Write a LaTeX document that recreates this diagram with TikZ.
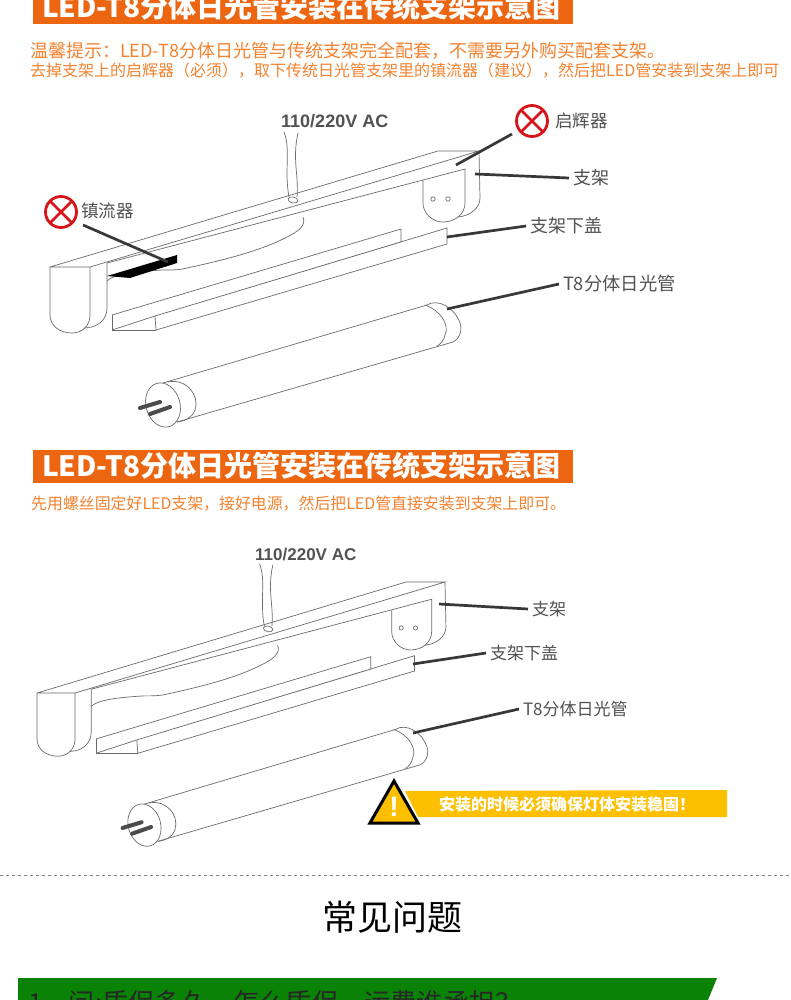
\documentclass[tikz,border=0pt]{standalone}
\usepackage{fontspec}
\setmainfont{Noto Sans CJK SC}
\newfontfamily\acfont{Liberation Sans}
\definecolor{barorange}{HTML}{EC6612}
\definecolor{noteorange}{HTML}{F4822F}
\definecolor{warnyellow}{HTML}{FCC000}
\definecolor{faqgreen}{HTML}{0A8205}
\definecolor{bandred}{HTML}{D7141A}
\newcommand{\sizept}[1]{\fontsize{#1}{#1}\selectfont}
\newcommand{\fixture}{%
\draw [fixline] (50,267) -- (438,151) -- (479,151) -- (90,267) -- (50,267) -- (50,315)
  .. controls (50,326) and (60,333) .. (72,333) .. controls (82,333) and (90,326) .. (90,315) -- (90,267);
\draw [fixline] (107,263) -- (107,308) .. controls (107,320) and (97,328) .. (84,328);
\draw [fixline] (479,151) -- (480,198) .. controls (480,208) and (470,216) .. (458,217);
\draw [fixline] (107,263) -- (465,169) -- (465,203) .. controls (465,214) and (455,222) .. (443,222)
  .. controls (432,222) and (423,213) .. (423,203) -- (423,181);
\draw [fixline] (433,199) circle (2.2);
\draw [fixline] (448,199) circle (2.2);
% reflector
\draw [fixline] (107,281) .. controls (112,276) and (125,272) .. (163,270)
  .. controls (172,270) and (180,270) .. (187,268) .. controls (225,260) and (262,250) .. (285,238)
  .. controls (300,231) and (306,225) .. (303,217);
% cover
\draw [fixline] (112,315) -- (401,229) -- (401,242) -- (155,316) -- (447,228) -- (447,244) -- (156,330) -- (155,316);
\draw [fixline] (112,315) -- (112,330) -- (156,330);
\draw [fixline] (112,330) -- (155,316);
% tube
\draw [fixline, rotate around={16:(163,405)}] (163,405) ellipse (17 and 22.5);
\draw [fixline] (163,383) -- (427,305) .. controls (438,298) and (455,308) .. (460,323)
  .. controls (463,332) and (458,340) .. (453,342) -- (177,422);
\draw [fixline] (168,382) .. controls (186,378) and (200,395) .. (195,410) .. controls (192,418) and (185,421) .. (177,422);
\draw [fixline] (425,305) .. controls (440,310) and (450,325) .. (445,335) .. controls (444,340) and (441,344) .. (437,346);
\draw [pinline] (140,408) -- (160,402);
\draw [pinline] (150,414) -- (170,407);
% wire
\draw [fixline] (284,132) .. controls (291,150) and (284,170) .. (289,197);
\draw [fixline] (298,133) .. controls (292,160) and (299,175) .. (297,197);
\draw [fixline, rotate around={-12:(293,200)}] (293,200) ellipse (5 and 3);
}
\newcommand{\banmark}[2]{%
\draw [banline] (#1,#2) circle (15.5);
\draw [banline] (#1-11,#2-11) -- (#1+11,#2+11);
\draw [banline] (#1-11,#2+11) -- (#1+11,#2-11);
}
\tikzset{
  fixline/.style={draw=black!58, line width=0.7pt},
  pinline/.style={draw=black!70, line width=4pt, line cap=round},
  banline/.style={draw=bandred, line width=2.8pt},
  leader/.style={draw=black!78, line width=2.7pt},
  partlabel/.style={anchor=west, inner sep=0pt, outer sep=4pt, text=black!68},
  titlebar/.style={anchor=north west, fill=barorange, minimum width=540, minimum height=33, inner sep=0pt},
  titletext/.style={anchor=west, inner sep=0pt, text=white, font=\sizept{28}\bfseries},
  notetext/.style={anchor=west, inner sep=0pt, text=noteorange},
  actext/.style={anchor=west, inner sep=0pt, text=black!68, font=\acfont\bfseries},
}
\begin{document}
\begin{tikzpicture}[x=1pt,y=-1pt]
\clip (0,0) rectangle (790,1000);
\fill [white] (0,0) rectangle (790,1000);
% first title
\node (barone) [titlebar] at (33,-9) {};
\node (titleone) [titletext] at (42,7) {LED-T8分体日光管安装在传统支架示意图};
\node (noteone) [notetext, font=\sizept{18}] at (30,51) {温馨提示：LED-T8分体日光管与传统支架完全配套，不需要另外购买配套支架。};
\node (notetwo) [notetext, font=\sizept{16}] at (30,71) {去掉支架上的启辉器（必须），取下传统日光管支架里的镇流器（建议），然后把LED管安装到支架上即可};
% first fixture
\fixture
\fill [black] (107,276) -- (177,255) -- (177,263) -- (130,278) -- cycle;
\node (acone) [actext, font=\acfont\bfseries\sizept{18}] at (281,121) {110/220V AC};
\banmark{532}{121}
\banmark{61}{212}
\node (starter) [partlabel, font=\sizept{17.5}] at (551,121) {启辉器};
\node (ballast) [partlabel, font=\sizept{17.5}] at (77,211) {镇流器};
\node (frameone) [partlabel, font=\sizept{18}] at (569,178) {支架};
\node (coverone) [partlabel, font=\sizept{18}] at (526,226) {支架下盖};
\node (tubeone) [partlabel, font=\sizept{18.3}] at (559,284) {T8分体日光管};
\coordinate (ballastend) at (168,262);
\coordinate (starterstart) at (512,134);
\coordinate (starterend) at (456,165);
\coordinate (frameoneend) at (475,174);
\coordinate (coveroneend) at (447,237);
\coordinate (tubeoneend) at (447,309);
\draw [leader] (83,225) -- (ballastend);
\draw [leader] (starterstart) -- (starterend);
\draw [leader] (frameone.west) -- (frameoneend);
\draw [leader] (coverone.west) -- (coveroneend);
\draw [leader] (tubeone.west) -- (tubeoneend);
% second title
\node (bartwo) [titlebar] at (33,450) {};
\node (titletwo) [titletext] at (42,466) {LED-T8分体日光管安装在传统支架示意图};
\node (notethree) [notetext, font=\sizept{15.9}] at (31,504) {先用螺丝固定好LED支架，接好电源，然后把LED管直接安装到支架上即可。};
% second fixture
\begin{scope}[shift={(-10.55,437.5)},xscale=.951,yscale=.957]
\fixture
\end{scope}
\node (actwo) [actext, font=\acfont\bfseries\sizept{17}] at (255,555) {110/220V AC};
\node (frametwo) [partlabel, font=\sizept{17}] at (528,609) {支架};
\node (covertwo) [partlabel, font=\sizept{17}] at (486,653) {支架下盖};
\node (tubetwo) [partlabel, font=\sizept{17}] at (519,709) {T8分体日光管};
\coordinate (frametwoend) at (439,604);
\coordinate (covertwoend) at (413,664);
\coordinate (tubetwoend) at (413,733);
\draw [leader] (frametwo.west) -- (frametwoend);
\draw [leader] (covertwo.west) -- (covertwoend);
\draw [leader] (tubetwo.west) -- (tubetwoend);
% warning
\fill [warnyellow] (405,791) -- (727,790) -- (727,817) -- (418,817) -- cycle;
\draw [white, line width=6pt, line join=miter] (394,781) -- (418,823) -- (370,823) -- cycle;
\draw [black, fill=warnyellow, line width=3pt, line join=miter] (394,781) -- (418,823) -- (370,823) -- cycle;
\node (warnmark) [inner sep=0pt, text=white, font=\acfont\bfseries\sizept{28}] at (394,807) {!};
\node (warntext) [anchor=west, inner sep=0pt, text=white, font=\sizept{16}\bfseries] at (439,804) {安装的时候必须确保灯体安装稳固！};
% faq
\draw [black!50, dashed, line width=0.6pt] (0,875) -- (790,875);
\node (faqhead) [inner sep=0pt, text=black, font=\sizept{35}] at (392,917) {常见问题};
\fill [faqgreen] (18,978) -- (717,978) -- (708,1000) -- (18,1000) -- cycle;
\node (faqone) [anchor=west, inner sep=0pt, text=black!85, font=\sizept{26.2}] at (28,1003) {1、问:质保多久，怎么质保，运费谁承担？};
\end{tikzpicture}
\end{document}
